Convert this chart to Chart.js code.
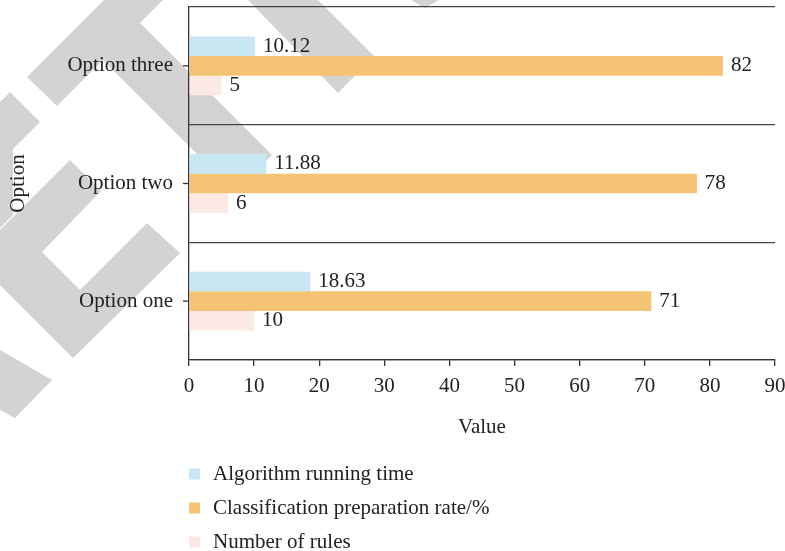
<!DOCTYPE html>
<html lang="en">
<head>
    <meta charset="UTF-8">
    <title>Option comparison</title>
    <script src="https://cdn.jsdelivr.net/npm/chart.js@4.4.1/dist/chart.umd.min.js"></script>
    <style>
        body { margin: 0; background: #fff; }
        canvas { display: block; }
    </style>
</head>
<body>
    <canvas id="myChart" width="785" height="551"></canvas>

    <script>
        const categories = ["Option one", "Option two", "Option three"];
        const runningTime = [18.63, 11.88, 10.12];
        const prepRate = [71, 78, 82];
        const ruleCount = [10, 6, 5];
        const seriesNames = ["Algorithm running time", "Classification preparation rate/%", "Number of rules"];
        const xMin = 0, xMax = 90, xStep = 10;

        const FONT = '"Liberation Serif", "Times New Roman", serif';
        const SIZE = 21;
        const INK = "#222";

        // grey diagonal bands painted behind the plot
        const stripes = [
            [[27,77],[104,0],[163,0],[140,23],[272,155],[235,192],[103,60],[57,106]],
            [[248,0],[318,0],[374,56],[338,93]],
            [[411,0],[439,0],[425,8]],
            [[0,102],[10,92],[40,122],[13,149],[13,215],[0,228]],
            [[73,358],[0,285],[0,230],[70,160],[101,191],[42,252],[80,290],[147,223],[180,253]],
            [[0,350],[52,380],[15,418],[0,410]]
        ];

        const backdrop = {
            id: "backdrop",
            beforeDraw(chart) {
                const ctx = chart.ctx;
                ctx.save();
                ctx.fillStyle = "#fff";
                ctx.fillRect(0, 0, chart.width, chart.height);
                ctx.fillStyle = "#d3d3d3";
                stripes.forEach(poly => {
                    ctx.beginPath();
                    poly.forEach((p, i) => i ? ctx.lineTo(p[0], p[1]) : ctx.moveTo(p[0], p[1]));
                    ctx.closePath();
                    ctx.fill();
                });
                ctx.restore();
            }
        };

        // value written at the end of every bar
        const barValues = {
            id: "barValues",
            afterDatasetsDraw(chart) {
                const ctx = chart.ctx;
                ctx.save();
                ctx.font = SIZE + "px " + FONT;
                ctx.fillStyle = INK;
                ctx.textBaseline = "middle";
                chart.data.datasets.forEach((ds, di) => {
                    chart.getDatasetMeta(di).data.forEach((bar, i) => {
                        ctx.fillText(String(ds.data[i]), bar.x + 8, bar.y);
                    });
                });
                ctx.restore();
            }
        };

        // small ticks at the middle of each category + legend as a list under the axis
        const extras = {
            id: "extras",
            afterDraw(chart) {
                const ctx = chart.ctx;
                const y = chart.scales.y;
                const left = chart.chartArea.left;
                ctx.save();
                ctx.strokeStyle = "#333";
                ctx.lineWidth = 1.3;
                y.ticks.forEach((t, i) => {
                    const py = y.getPixelForTick(i);
                    ctx.beginPath();
                    ctx.moveTo(left - 6, py);
                    ctx.lineTo(left, py);
                    ctx.stroke();
                });

                ctx.font = SIZE + "px " + FONT;
                ctx.textBaseline = "middle";
                let ly = chart.scales.x.bottom + 34;
                chart.data.datasets.forEach(ds => {
                    ctx.fillStyle = ds.backgroundColor;
                    ctx.fillRect(left, ly - 5.5, 11, 11);
                    ctx.fillStyle = INK;
                    ctx.fillText(ds.label, left + 24, ly);
                    ly += 34;
                });
                ctx.restore();
            }
        };

        Chart.defaults.font.family = FONT;
        Chart.defaults.font.size = SIZE;
        Chart.defaults.color = INK;

        new Chart("myChart", {
            type: "bar",
            data: {
                labels: categories,
                datasets: [
                    { label: seriesNames[0], data: runningTime, backgroundColor: "#c9e7f3" },
                    { label: seriesNames[1], data: prepRate, backgroundColor: "#f4c474" },
                    { label: seriesNames[2], data: ruleCount, backgroundColor: "#fce9e3" }
                ]
            },
            options: {
                indexAxis: "y",
                responsive: false,
                animation: false,
                barPercentage: 1,
                categoryPercentage: 0.5,
                layout: { padding: { top: 7, right: 10, bottom: 111, left: 0 } },
                plugins: {
                    legend: { display: false },
                    tooltip: { enabled: false }
                },
                scales: {
                    x: {
                        min: xMin,
                        max: xMax,
                        afterFit(s) {
                            s.height = 80;
                            s.paddingLeft = 0;
                            s.paddingRight = 0;
                        },
                        grid: { drawOnChartArea: false, tickLength: 6, color: "#333", lineWidth: 1.3 },
                        border: { color: "#333", width: 1.3 },
                        ticks: { stepSize: xStep, padding: 8, maxRotation: 0 },
                        title: { display: true, text: "Value", padding: 0 }
                    },
                    y: {
                        reverse: true,
                        afterFit(s) {
                            s.width = 189;
                            s.paddingTop = 0;
                            s.paddingBottom = 0;
                        },
                        grid: { offset: true, drawTicks: false, color: "#444", lineWidth: 1.3 },
                        border: { color: "#333", width: 1.3 },
                        ticks: { padding: 16 },
                        title: { display: true, text: "Option", padding: { top: 6, bottom: 0 } }
                    }
                }
            },
            plugins: [backdrop, barValues, extras]
        });
    </script>
</body>
</html>
